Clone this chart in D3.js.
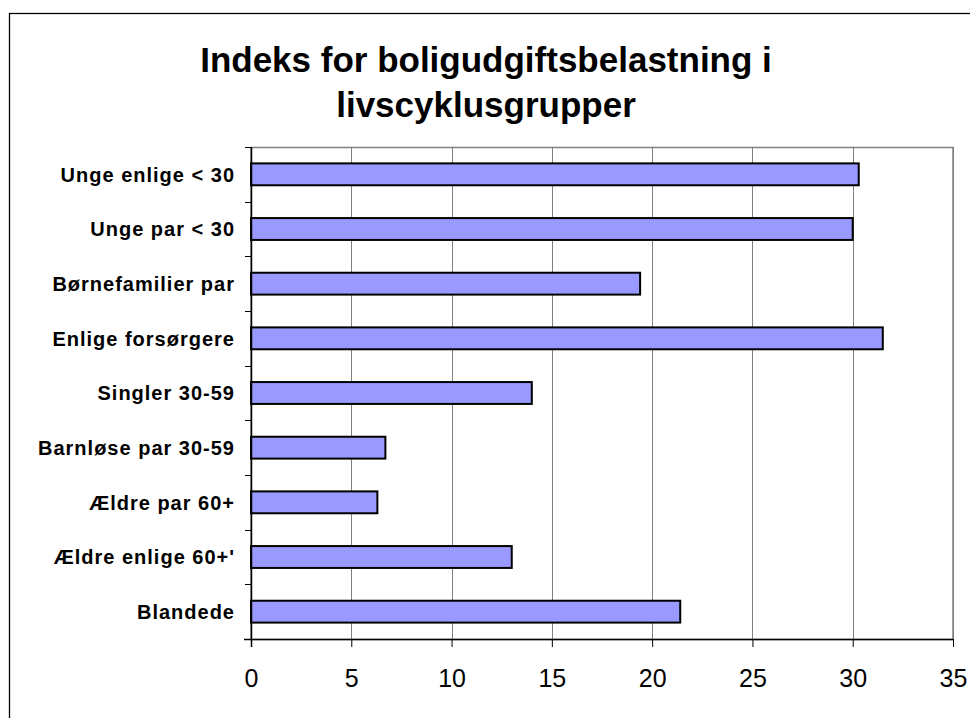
<!DOCTYPE html>
<html>
<head>
<meta charset="utf-8">
<script src="https://cdn.jsdelivr.net/npm/d3@7"></script>
<style>
  html, body { margin: 0; padding: 0; background: #fff; }
  svg { display: block; }
</style>
</head>
<body>
<script>
const titleLines = ["Indeks for boligudgiftsbelastning i", "livscyklusgrupper"];
const categories = ["Unge enlige < 30", "Unge par < 30", "Børnefamilier par", "Enlige forsørgere",
  "Singler 30-59", "Barnløse par 30-59", "Ældre par 60+", "Ældre enlige 60+'", "Blandede"];
const values = [30.3, 30.0, 19.4, 31.5, 14.0, 6.7, 6.3, 13.0, 21.4];
const xTicks = [0, 5, 10, 15, 20, 25, 30, 35];

const W = 970, H = 718;
const plot = { left: 251, right: 953, top: 147, bottom: 639 };

const svg = d3.select("body").append("svg").attr("width", W).attr("height", H);

// outer chart frame (extends beyond window on right/bottom)
svg.append("rect").attr("x", 9.5).attr("y", 13.5).attr("width", 1000).attr("height", 1000)
  .attr("fill", "#fff").attr("stroke", "#000").attr("stroke-width", 1.3);

// title
const title = svg.append("text").attr("text-anchor", "middle")
  .attr("font-family", "'Liberation Sans', Arial, sans-serif").attr("font-weight", "bold")
  .attr("font-size", 35).attr("fill", "#000");
titleLines.forEach((t, i) => {
  title.append("tspan").attr("x", 486).attr("y", 72 + i * 45).text(t);
});

const x = d3.scaleLinear().domain([0, 35]).range([plot.left, plot.right]);
const y = d3.scaleBand().domain(categories).range([plot.top, plot.bottom])
  .paddingInner(0.6).paddingOuter(0.3);

// plot area frame (gray)
svg.append("rect").attr("x", plot.left).attr("y", plot.top + 0.5)
  .attr("width", plot.right - plot.left).attr("height", plot.bottom - plot.top)
  .attr("fill", "#fff").attr("stroke", "#808080").attr("stroke-width", 1.5);

// gridlines
svg.append("g").selectAll("line").data(xTicks.filter(d => d > 0)).join("line")
  .attr("x1", d => Math.round(x(d)) + 0.5).attr("x2", d => Math.round(x(d)) + 0.5)
  .attr("y1", plot.top).attr("y2", plot.bottom)
  .attr("stroke", "#808080").attr("stroke-width", 1);

// bars
svg.append("g").selectAll("rect").data(categories).join("rect")
  .attr("x", x(0)).attr("y", d => y(d))
  .attr("width", (d, i) => x(values[i]) - x(0)).attr("height", y.bandwidth())
  .attr("fill", "#9999FF").attr("stroke", "#000").attr("stroke-width", 2);

// x axis
const xAxis = svg.append("g").attr("transform", `translate(0,${plot.bottom})`)
  .call(d3.axisBottom(x).tickValues(xTicks).tickSize(8).tickPadding(14).tickSizeOuter(0));
xAxis.select(".domain").attr("stroke", "#000").attr("stroke-width", 1.5)
  .attr("d", `M${plot.left - 7},0.5H${plot.right}`);
xAxis.selectAll(".tick line").attr("stroke", "#000");
xAxis.selectAll(".tick text").attr("font-family", "'Liberation Sans', Arial, sans-serif")
  .attr("font-size", 25).attr("fill", "#000").attr("dy", "0.71em").attr("y", 30);

// y axis line and ticks at band boundaries
svg.append("line").attr("x1", plot.left + 0.5).attr("x2", plot.left + 0.5)
  .attr("y1", plot.top).attr("y2", plot.bottom + 8).attr("stroke", "#000").attr("stroke-width", 1.5);
const boundaries = d3.range(categories.length + 1).map(i => plot.top + i * (plot.bottom - plot.top) / categories.length);
svg.append("g").selectAll("line").data(boundaries).join("line")
  .attr("x1", plot.left - 6).attr("x2", plot.left)
  .attr("y1", d => Math.round(d) + 0.5).attr("y2", d => Math.round(d) + 0.5)
  .attr("stroke", "#000").attr("stroke-width", 1);

// category labels
svg.append("g").selectAll("text").data(categories).join("text")
  .attr("x", 235).attr("y", d => y(d) + y.bandwidth() / 2)
  .attr("dy", "0.36em").attr("text-anchor", "end")
  .attr("font-family", "'Liberation Sans', Arial, sans-serif").attr("font-weight", "bold")
  .attr("font-size", 20).attr("letter-spacing", 1).attr("fill", "#000")
  .text(d => d);
</script>
</body>
</html>
